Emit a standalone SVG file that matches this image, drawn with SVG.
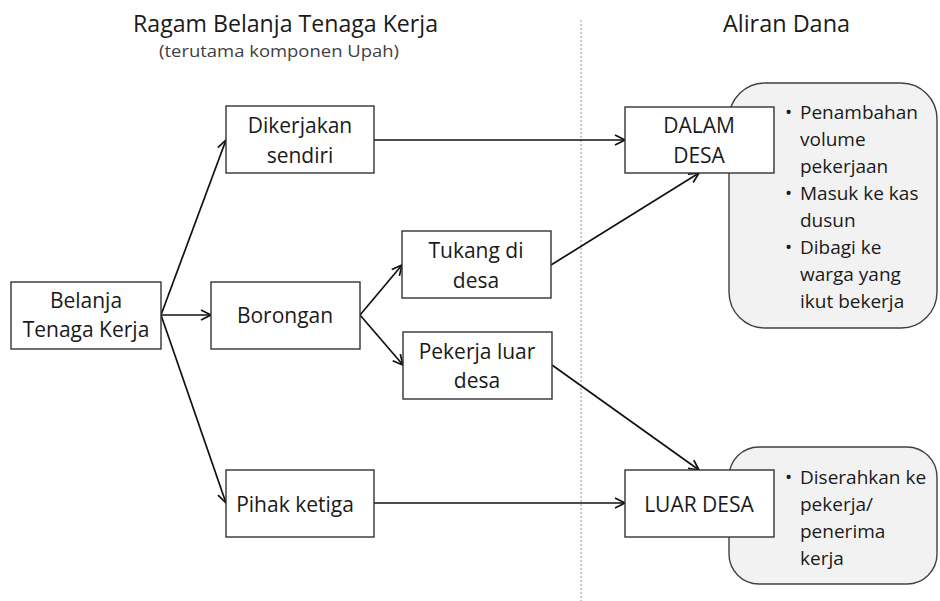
<svg xmlns="http://www.w3.org/2000/svg" width="940" height="601" viewBox="0 0 940 601">
  <style>
    .box { fill: #ffffff; stroke: #333333; stroke-width: 1.4; }
    .note { fill: #f2f2f2; stroke: #404040; stroke-width: 1.4; }
    .lbl { font-family: "Open Sans", "Noto Sans", sans-serif; font-size: 21px; fill: #1a1a1a; text-anchor: middle; }
    .bul { font-family: "Open Sans", "Noto Sans", sans-serif; font-size: 19px; fill: #1a1a1a; }
    .title { font-family: "Open Sans", "Noto Sans", sans-serif; font-size: 24px; fill: #1a1a1a; text-anchor: middle; }
    .sub { font-family: "Open Sans", "Noto Sans", sans-serif; font-size: 17px; fill: #404040; text-anchor: middle; }
    .edge { stroke: #111111; stroke-width: 1.7; fill: none; marker-end: url(#arrow); }
  </style>
  <defs>
    <marker id="arrow" markerUnits="userSpaceOnUse" markerWidth="14" markerHeight="14" refX="11" refY="6" orient="auto">
      <path d="M1,1 L11,6 L1,11" fill="none" stroke="#111111" stroke-width="1.7"/>
    </marker>
  </defs>

  <rect width="940" height="601" fill="#ffffff"/>

  <!-- headings -->
  <g id="headings">
    <text class="title" x="285.5" y="32" textLength="305" lengthAdjust="spacingAndGlyphs">Ragam Belanja Tenaga Kerja</text>
    <text class="sub" x="279" y="57" textLength="240" lengthAdjust="spacingAndGlyphs">(terutama komponen Upah)</text>
    <text class="title" x="786.5" y="32" textLength="127" lengthAdjust="spacingAndGlyphs">Aliran Dana</text>
  </g>

  <!-- column divider -->
  <line x1="581" y1="20" x2="581" y2="601" stroke="#9a9a9a" stroke-width="1" stroke-dasharray="2,2"/>

  <!-- connectors -->
  <g id="connectors">
    <line class="edge" x1="161" y1="315" x2="226" y2="140"/>
    <line class="edge" x1="161" y1="315" x2="211" y2="315"/>
    <line class="edge" x1="161" y1="315" x2="226" y2="503"/>
    <line class="edge" x1="360" y1="315" x2="402" y2="265"/>
    <line class="edge" x1="360" y1="315" x2="403" y2="365"/>
    <line class="edge" x1="374" y1="140" x2="625" y2="140"/>
    <line class="edge" x1="551" y1="265" x2="699" y2="173"/>
    <line class="edge" x1="552" y1="365" x2="699" y2="470"/>
    <line class="edge" x1="374" y1="503" x2="625" y2="503"/>
  </g>

  <!-- notes behind the destination boxes -->
  <g id="note-dalam">
    <rect class="note" x="729" y="83" width="208" height="245" rx="36" ry="36"/>
    <text class="bul" x="785" y="119">•</text>
    <text class="bul" x="800" y="119">Penambahan</text>
    <text class="bul" x="800" y="146">volume</text>
    <text class="bul" x="800" y="173">pekerjaan</text>
    <text class="bul" x="785" y="200">•</text>
    <text class="bul" x="800" y="200">Masuk ke kas</text>
    <text class="bul" x="800" y="227">dusun</text>
    <text class="bul" x="785" y="254">•</text>
    <text class="bul" x="800" y="254">Dibagi ke</text>
    <text class="bul" x="800" y="281">warga yang</text>
    <text class="bul" x="800" y="308">ikut bekerja</text>
  </g>
  <g id="note-luar">
    <rect class="note" x="729" y="447" width="208" height="137" rx="30" ry="30"/>
    <text class="bul" x="785" y="484">•</text>
    <text class="bul" x="800" y="484">Diserahkan ke</text>
    <text class="bul" x="800" y="511">pekerja/</text>
    <text class="bul" x="800" y="538">penerima</text>
    <text class="bul" x="800" y="565">kerja</text>
  </g>

  <!-- nodes -->
  <g id="belanja">
    <rect class="box" x="11" y="282" width="150" height="67"/>
    <text class="lbl" x="86" y="308">Belanja</text>
    <text class="lbl" x="86" y="337">Tenaga Kerja</text>
  </g>
  <g id="dikerjakan">
    <rect class="box" x="226" y="106" width="148" height="67"/>
    <text class="lbl" x="300" y="133">Dikerjakan</text>
    <text class="lbl" x="300" y="163">sendiri</text>
  </g>
  <g id="borongan">
    <rect class="box" x="211" y="282" width="149" height="67"/>
    <text class="lbl" x="285" y="323">Borongan</text>
  </g>
  <g id="tukang">
    <rect class="box" x="402" y="231" width="149" height="67"/>
    <text class="lbl" x="476" y="258">Tukang di</text>
    <text class="lbl" x="476" y="288">desa</text>
  </g>
  <g id="pekerja-luar">
    <rect class="box" x="403" y="332" width="149" height="67"/>
    <text class="lbl" x="477" y="359">Pekerja luar</text>
    <text class="lbl" x="477" y="388">desa</text>
  </g>
  <g id="pihak-ketiga">
    <rect class="box" x="226" y="470" width="148" height="67"/>
    <text class="lbl" x="295" y="512">Pihak ketiga</text>
  </g>
  <g id="dalam-desa">
    <rect class="box" x="625" y="107" width="149" height="66"/>
    <text class="lbl" x="699" y="133">DALAM</text>
    <text class="lbl" x="699" y="163">DESA</text>
  </g>
  <g id="luar-desa">
    <rect class="box" x="625" y="470" width="149" height="67"/>
    <text class="lbl" x="699" y="512">LUAR DESA</text>
  </g>
</svg>
